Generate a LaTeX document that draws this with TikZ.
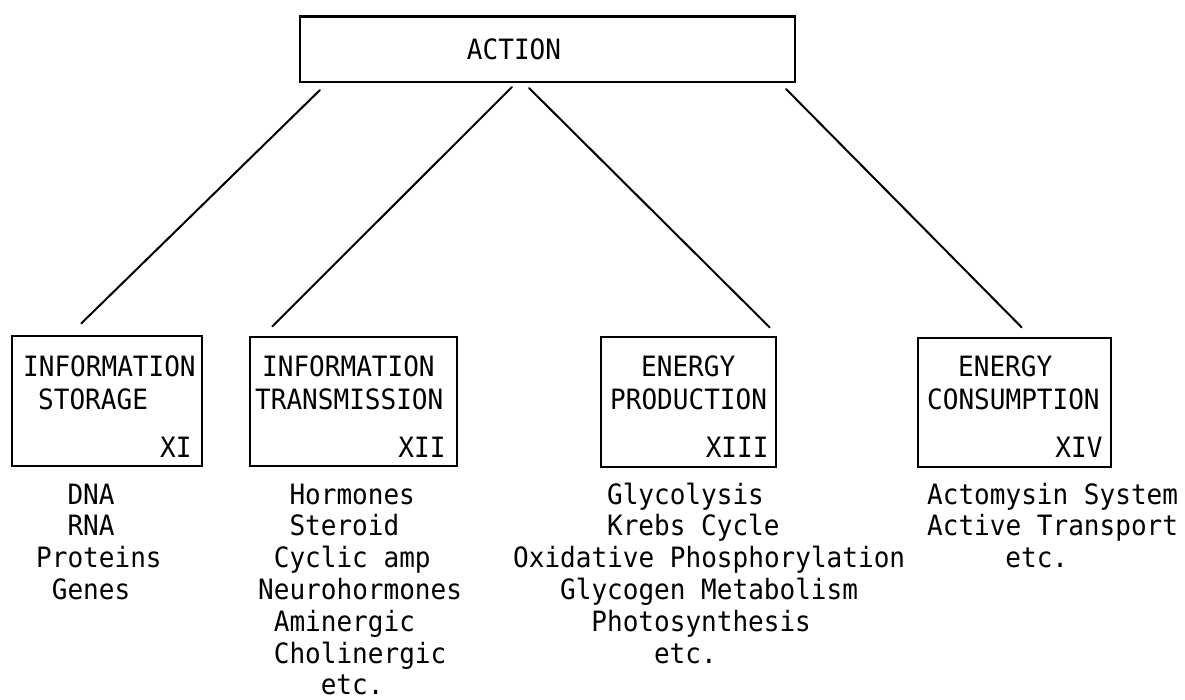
\documentclass[tikz,border=0pt]{standalone}
\usepackage{fontspec}
\newfontfamily\twfont[FakeStretch=0.93]{DejaVu Sans Mono}
\usetikzlibrary{calc}
\begin{document}
\begin{tikzpicture}[x=1pt,y=-1pt,
  txt/.style={font=\twfont\fontsize{28}{33}\selectfont, inner sep=0pt},
  lst/.style={txt, anchor=base west},
  boxshape/.style={draw, line width=1.3pt, rectangle, inner sep=0pt},
  actbox/.style={draw, line width=2pt, rectangle, inner sep=0pt},
  conn/.style={line width=2pt, line cap=round}]
\useasboundingbox (0,0) rectangle (1185,700);
% top box
\node[actbox, minimum width=495pt, minimum height=65pt] (act) at (547.5,49.5) {};
\draw[line width=2.8pt] (act.north west) -- (act.north east);
\node[txt, anchor=base] (acttxt) at (514,60) {ACTION};
% lower boxes
\node[boxshape, minimum width=190pt, minimum height=130pt] (b1) at (107,401) {};
\node[boxshape, minimum width=207pt, minimum height=129pt] (b2) at (353.5,401.5) {};
\node[boxshape, minimum width=175pt, minimum height=130pt] (b3) at (688.5,402) {};
\node[boxshape, minimum width=193pt, minimum height=129pt] (b4) at (1014.5,402.5) {};
% box titles
\node[lst] (t1a) at (23,376) {INFORMATION};
\node[lst] (t1b) at (38,409) {STORAGE};
\node[lst] (t2a) at (262,376) {INFORMATION};
\node[lst] (t2b) at (255,409) {TRANSMISSION};
\node[lst] (t3a) at (641,376) {ENERGY};
\node[lst] (t3b) at (610,409) {PRODUCTION};
\node[lst] (t4a) at (958,376) {ENERGY};
\node[lst] (t4b) at (927,409) {CONSUMPTION};
% numerals
\node[txt, anchor=base east] (n1) at ($(b1.east|-0,457)+(-11,0)$) {XI};
\node[txt, anchor=base east] (n2) at ($(b2.east|-0,457)+(-12,0)$) {XII};
\node[txt, anchor=base east] (n3) at ($(b3.east|-0,457)+(-8,0)$) {XIII};
\node[txt, anchor=base east] (n4) at ($(b4.east|-0,457)+(-9,0)$) {XIV};
% lists
\foreach \c/\t [count=\i from 0] in {2/DNA,2/RNA,0/Proteins,1/Genes}
  \node[lst] (la\i) at ({36+\c*15.65},{504+\i*31.8}) {\t};
\foreach \c/\t [count=\i from 0] in {2/Hormones,2/Steroid,1/Cyclic amp,0/Neurohormones,1/Aminergic,1/Cholinergic,4/etc.}
  \node[lst] (lb\i) at ({258+\c*15.65},{504+\i*31.8}) {\t};
\foreach \c/\t [count=\i from 0] in {6/Glycolysis,6/Krebs Cycle,0/Oxidative Phosphorylation,3/Glycogen Metabolism,5/Photosynthesis,9/etc.}
  \node[lst] (lc\i) at ({513+\c*15.65},{504+\i*31.8}) {\t};
\foreach \c/\t [count=\i from 0] in {0/Actomysin System,0/Active Transport,5/etc.}
  \node[lst] (ld\i) at ({927+\c*15.65},{504+\i*31.8}) {\t};
% connectors
\draw[conn] ($(act.south west)+(21,7)$) -- ($(b1.north west)+(70,-12)$);
\draw[conn] ($(act.south west)+(213,4)$) -- ($(b2.north west)+(23,-10)$);
\draw[conn] ($(act.south west)+(230,5)$) -- ($(b3.north east)+(-7,-9)$);
\draw[conn] ($(act.south east)+(-10,6)$) -- ($(b4.north east)+(-90,-10)$);
\end{tikzpicture}
\end{document}
